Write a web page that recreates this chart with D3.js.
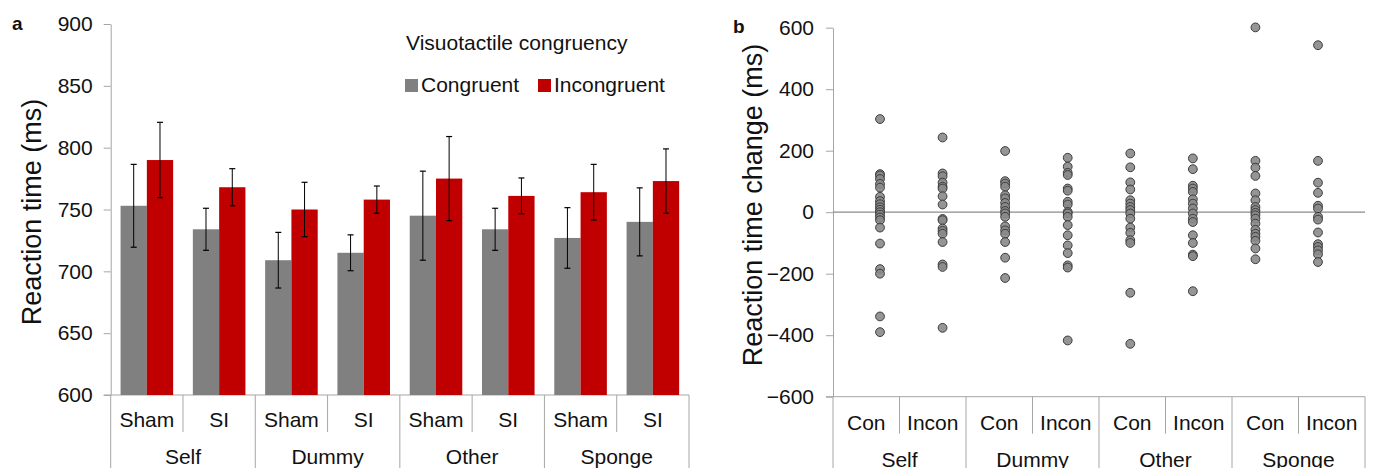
<!DOCTYPE html>
<html>
<head>
<meta charset="utf-8">
<script src="https://cdn.jsdelivr.net/npm/d3@7"></script>
<style>
  body { margin: 0; background: #fff; }
  text { font-family: "Liberation Sans", Arial, sans-serif; fill: #111; }
</style>
</head>
<body>
<div id="chart"></div>
<script>
// panel a data
const groups = ["Self", "Dummy", "Other", "Sponge"];
const stimLabels = ["Sham", "SI"];
const seriesNames = ["Congruent", "Incongruent"];
const congruentMean = [753, 734, 709, 715, 745, 734, 727, 740];
const congruentErr = [33.5, 17, 22.5, 14.5, 36, 17, 24.5, 27.5];
const incongruentMean = [790, 768, 750, 758, 775, 761, 764, 773];
const incongruentErr = [30.5, 15, 22, 11, 34, 14.5, 22.5, 26];
const rtTicks = [600, 650, 700, 750, 800, 850, 900];

// panel b data (one array per column)
const changeLabels = ["Con", "Incon"];
const selfCon = [303, 124, 119, 108, 92, 80, 50, 36, 26, 16, 8, 0, -8, -17, -26, -50, -102, -185, -200, -339, -390];
const selfIncon = [243, 126, 117, 96, 83, 77, 52, 25, -22, -26, -53, -61, -70, -97, -170, -178, -376];
const dummyCon = [199, 101, 93, 83, 55, 45, 30, 17, 4, -4, -15, -46, -59, -70, -97, -148, -214];
const dummyIncon = [177, 148, 128, 121, 77, 70, 34, 25, 1, -4, -15, -42, -75, -108, -133, -173, -180, -417];
const otherCon = [191, 146, 97, 74, 39, 28, 17, 7, -4, -21, -50, -67, -91, -100, -262, -428];
const otherIncon = [175, 140, 86, 77, 66, 42, 28, 12, -4, -21, -32, -75, -100, -138, -143, -257];
const spongeCon = [601, 167, 145, 118, 61, 39, 17, 7, -2, -10, -21, -37, -57, -70, -80, -93, -118, -153];
const spongeIncon = [543, 167, 96, 63, 21, 12, -15, -24, -66, -104, -113, -124, -137, -162];
const changeColumns = [selfCon, selfIncon, dummyCon, dummyIncon, otherCon, otherIncon, spongeCon, spongeIncon];
const changeTicks = [-600, -400, -200, 0, 200, 400, 600];

const W = 1373, H = 468;
const axisColor = "#a6a6a6";
const fs = 21;
const fmt = v => v < 0 ? "\u2212" + Math.abs(v) : String(v);

const svg = d3.select("#chart").append("svg")
  .attr("width", W).attr("height", H);

// category axis with two levels and divider lines, like the spreadsheet one
function drawCategoryAxis(g, x0, x1, y, sub, rows) {
  const cats = d3.range(groups.length * sub.length);
  const band = d3.scaleBand().domain(cats).range([x0, x1]);
  g.append("line").attr("x1", x0 - 7).attr("x2", x1).attr("y1", y).attr("y2", y)
    .attr("stroke", axisColor);
  cats.forEach(i => {
    const bx = band(i);
    const isGroupEdge = i % sub.length === 0;
    g.append("line").attr("x1", bx).attr("x2", bx).attr("y1", y)
      .attr("y2", isGroupEdge ? H + 5 : y + rows[0])
      .attr("stroke", axisColor);
    g.append("text").attr("x", bx + band.bandwidth() / 2).attr("y", y + rows[1])
      .attr("text-anchor", "middle").attr("font-size", fs)
      .text(sub[i % sub.length]);
  });
  g.append("line").attr("x1", x1).attr("x2", x1).attr("y1", y).attr("y2", H + 5)
    .attr("stroke", axisColor);
  groups.forEach((name, gi) => {
    const gx = band(gi * sub.length) + band.bandwidth() * sub.length / 2;
    g.append("text").attr("x", gx).attr("y", y + rows[2])
      .attr("text-anchor", "middle").attr("font-size", fs).text(name);
  });
  return band;
}

function styleAxis(g) {
  g.select(".domain").attr("stroke", axisColor);
  g.selectAll(".tick line").attr("stroke", axisColor);
  g.selectAll(".tick text").attr("font-size", fs).attr("font-family", "Liberation Sans, Arial, sans-serif").attr("fill", "#111");
}

// ---------- panel a ----------
const a = { left: 110.7, right: 689, top: 24, bottom: 395 };
const ga = svg.append("g");
const yA = d3.scaleLinear().domain([600, 900]).range([a.bottom, a.top]);

ga.append("g").attr("transform", `translate(${a.left},0)`)
  .call(d3.axisLeft(yA).tickValues(rtTicks).tickSize(7).tickSizeOuter(0).tickPadding(11))
  .call(styleAxis);

const bandA = drawCategoryAxis(ga, a.left, a.right, a.bottom, stimLabels, [37, 32, 69]);
const inner = d3.scaleBand().domain(seriesNames).range([0, bandA.bandwidth()]).paddingOuter(0.375);

const barRows = congruentMean.map((m, i) => [
  { s: "Congruent", i, v: m, e: congruentErr[i], c: "#808080" },
  { s: "Incongruent", i, v: incongruentMean[i], e: incongruentErr[i], c: "#c00000" }
]).flat();

ga.selectAll("rect.bar").data(barRows).enter().append("rect")
  .attr("class", "bar")
  .attr("x", d => bandA(d.i) + inner(d.s))
  .attr("width", inner.bandwidth())
  .attr("y", d => yA(d.v))
  .attr("height", d => yA(600) - yA(d.v))
  .attr("fill", d => d.c);

// error bars
const eb = ga.selectAll("g.err").data(barRows).enter().append("g").attr("class", "err")
  .attr("transform", d => `translate(${bandA(d.i) + inner(d.s) + inner.bandwidth() / 2},0)`);
eb.append("line").attr("y1", d => yA(d.v + d.e)).attr("y2", d => yA(d.v - d.e))
  .attr("stroke", "#000").attr("stroke-width", 1);
eb.append("line").attr("x1", -3).attr("x2", 3).attr("y1", d => yA(d.v + d.e)).attr("y2", d => yA(d.v + d.e))
  .attr("stroke", "#000").attr("stroke-width", 1.2);
eb.append("line").attr("x1", -3).attr("x2", 3).attr("y1", d => yA(d.v - d.e)).attr("y2", d => yA(d.v - d.e))
  .attr("stroke", "#000").attr("stroke-width", 1.2);

// legend
ga.append("text").attr("x", 406).attr("y", 50).attr("font-size", fs).text("Visuotactile congruency");
const legX = [405, 538];
seriesNames.forEach((s, i) => {
  ga.append("rect").attr("x", legX[i]).attr("y", 79).attr("width", 13).attr("height", 13)
    .attr("fill", i === 0 ? "#808080" : "#c00000");
  ga.append("text").attr("x", legX[i] + 16).attr("y", 92).attr("font-size", fs).text(s);
});

ga.append("text").attr("transform", "translate(41,212) rotate(-90)")
  .attr("text-anchor", "middle").attr("font-size", 27).text("Reaction time (ms)");
ga.append("text").attr("x", 12).attr("y", 30).attr("font-size", 19).attr("font-weight", "bold").text("a");

// ---------- panel b ----------
const b = { left: 833, right: 1365, top: 27.7, bottom: 396.7 };
const gb = svg.append("g");
const yB = d3.scaleLinear().domain([-600, 600]).range([b.bottom, b.top]);

gb.append("g").attr("transform", `translate(${b.left},0)`)
  .call(d3.axisLeft(yB).tickValues(changeTicks).tickFormat(fmt).tickSize(7).tickSizeOuter(0).tickPadding(12))
  .call(styleAxis);

drawCategoryAxis(gb, b.left, b.right, b.bottom, changeLabels, [37, 33, 70]);

gb.append("line").attr("x1", b.left).attr("x2", b.right).attr("y1", yB(0)).attr("y2", yB(0))
  .attr("stroke", "#8c8c8c").attr("stroke-width", 1.3);

const xB = d3.scaleLinear().domain([1, 8]).range([b.left + 47, b.right - 47]);
const pts = changeColumns.map((col, ci) => col.map(v => ({ ci, v }))).flat();
gb.selectAll("circle").data(pts).enter().append("circle")
  .attr("cx", d => xB(d.ci + 1)).attr("cy", d => yB(d.v)).attr("r", 4.4)
  .attr("fill", "#8a8a8a").attr("fill-opacity", 0.9)
  .attr("stroke", "#3c3c3c").attr("stroke-width", 1);

gb.append("text").attr("transform", "translate(762,205) rotate(-90)")
  .attr("text-anchor", "middle").attr("font-size", 27).text("Reaction time change (ms)");
gb.append("text").attr("x", 733).attr("y", 33).attr("font-size", 19).attr("font-weight", "bold").text("b");
</script>
</body>
</html>
